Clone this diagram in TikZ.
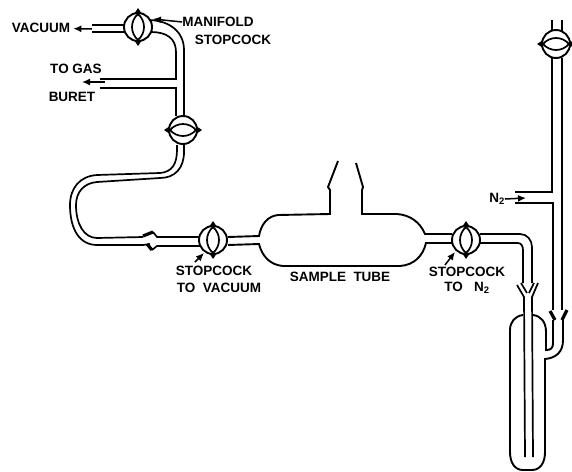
\documentclass[tikz,border=0pt]{standalone}
\usepackage{fontspec}
\setmainfont{Liberation Sans}
\usetikzlibrary{arrows.meta}
\tikzset{tube/.style={black,line width=1.7pt},
  wall/.style={black,line width=1.9pt},
  barb/.style={black,line width=3.2pt},
  lbl/.style={font=\fontsize{13.5}{13.5}\selectfont\bfseries,inner sep=0pt},
  feed/.style={black,line width=1.5pt,-{Latex[length=8pt,width=7pt]}}}
\begin{document}
\begin{tikzpicture}[x=1pt,y=-1pt]
\useasboundingbox (0,0) rectangle (572,471);

\node[lbl] (vacuum) at (41,28) {VACUUM};
\node[lbl] (manifold) at (218,22) {MANIFOLD};
\node[lbl] (manifoldb) at (233,40) {STOPCOCK};
\node[lbl] (togas) at (76,69) {TO GAS};
\node[lbl] (buret) at (72,97) {BURET};
\node[lbl] (stopvac) at (214,271) {STOPCOCK};
\node[lbl] (stopvacb) at (219,288) {TO\ \ VACUUM};
\node[lbl] (sample) at (340,277) {SAMPLE\ \ TUBE};
\node[lbl] (stopnit) at (467,272) {STOPCOCK};
\node[lbl] (stopnitb) at (467,288) {TO\ \ \ N$_{\mathbf 2}$};
\node[lbl] (nit) at (497,199) {N$_{\mathbf 2}$};

\coordinate (vacfrom) at (92,29);
\coordinate (manifoldtip) at (153,19);
\coordinate (gasfrom) at (105,82);
\coordinate (gastip) at (82,82);
\coordinate (stopvacfrom) at (195,262);
\coordinate (stopvactip) at (204,253);
\coordinate (stopnitfrom) at (445,265);
\coordinate (stopnittip) at (455,252);
\coordinate (nittip) at (526,198);

\draw[feed,shorten >=3pt] (vacfrom) -- (vacuum);
\draw[feed] (manifold.west) -- (manifoldtip);
\draw[feed] (gasfrom) -- (gastip);
\draw[feed] (stopvacfrom) -- (stopvactip);
\draw[feed] (stopnitfrom) -- (stopnittip);
\draw[feed] (nit.east) -- (nittip);

% manifold and gas buret
\draw[tube] (124,25) -- (92,25);
\draw[tube] (124,32) -- (92,32);
\draw[tube] (150,20) .. controls (170,21) and (184,32) .. (184,50) -- (184,116);
\draw[tube] (151,32) .. controls (166,32) and (176,38) .. (176,52) -- (176,79) -- (100,79);
\draw[tube] (100,88) -- (176,88) -- (176,116);

% loop down to the joint
\draw[tube] (177,145) -- (177,150) .. controls (177,164) and (172,172) .. (160,173)
  -- (97,175) .. controls (80,176) and (70,188) .. (70,205)
  .. controls (70,230) and (80,245) .. (97,245) -- (143,245);
\draw[tube] (184,145) -- (184,152) .. controls (184,168) and (175,178) .. (160,178)
  -- (97,182) .. controls (84,183) and (76,192) .. (76,205)
  .. controls (76,224) and (84,238) .. (97,238) -- (143,237);
\draw[barb] (143,236) -- (153,232);
\draw[tube] (153,232) -- (157,237) -- (200,237);
\draw[tube] (143,245) -- (150,244);
\draw[barb] (147,244) -- (152,250);
\draw[tube] (152,250) -- (157,246) -- (200,246);

% sample tube
\draw[wall] (228,237) -- (259,236) .. controls (261,224) and (268,216) .. (278,215)
  -- (330,214) -- (330,190) -- (328,187) -- (338,161);
\draw[wall] (356,163) -- (363,187) -- (362,190) -- (362,214) -- (397,214)
  .. controls (410,215) and (420,222) .. (425,234) -- (452,234);
\draw[wall] (228,245) -- (259,244) .. controls (262,256) and (270,265) .. (283,266)
  -- (400,266) .. controls (414,265) and (423,256) .. (426,243) -- (452,243);

% line over to the gas washer
\draw[tube] (480,234) -- (520,234) .. controls (527,234) and (532,240) .. (532,247) -- (532,283);
\draw[tube] (480,243) -- (518,243) .. controls (521,243) and (523,246) .. (523,250) -- (523,283);
\draw[tube] (517,285) -- (524,297) -- (525,457);
\draw[tube] (521,283) -- (527,293);
\draw[tube] (538,283) -- (532,297) -- (533,457);
\draw[tube] (534,283) -- (529,293);

% washer body
\draw[wall] (533,315) .. controls (541,316) and (546,322) .. (546,332) -- (546,350)
  .. controls (551,350) and (553,348) .. (553,343) -- (553,320);
\draw[wall] (523,315) .. controls (515,316) and (510,322) .. (510,330) -- (510,452)
  .. controls (510,463) and (515,470) .. (523,470) -- (532,470)
  .. controls (540,470) and (545,463) .. (545,452) -- (545,359)
  .. controls (556,358) and (563,352) .. (563,340) -- (563,320);

% right hand column
\draw[tube] (552,20) -- (552,31);
\draw[tube] (562,20) -- (562,31);
\draw[tube] (552,58) -- (552,192) -- (515,192);
\draw[tube] (515,203) -- (553,203) -- (553,310);
\draw[tube] (562,58) -- (562,310);
\draw[barb] (550,311) -- (555,320);
\draw[barb] (567,310) -- (562,320);

\foreach \cx/\cy in {138/27,213/240,466/240} {
  \draw[wall,fill=white] (\cx,\cy) circle (14);
  \draw[tube] (\cx,\cy-13) .. controls (\cx-8,\cy-6) and (\cx-8,\cy+6) .. (\cx,\cy+13);
  \draw[tube] (\cx,\cy-13) .. controls (\cx+8,\cy-6) and (\cx+8,\cy+6) .. (\cx,\cy+13);
  \fill[black] (\cx-4,\cy-13) -- (\cx,\cy-19) -- (\cx+4,\cy-13) -- cycle;
  \fill[black] (\cx-4,\cy+13) -- (\cx,\cy+19) -- (\cx+4,\cy+13) -- cycle;
}
\foreach \cx/\cy in {183/130,556/44} {
  \draw[wall,fill=white] (\cx,\cy) circle (14);
  \draw[tube] (\cx-13,\cy) .. controls (\cx-6,\cy-8) and (\cx+6,\cy-8) .. (\cx+13,\cy);
  \draw[tube] (\cx-13,\cy) .. controls (\cx-6,\cy+8) and (\cx+6,\cy+8) .. (\cx+13,\cy);
  \fill[black] (\cx-13,\cy-4) -- (\cx-19,\cy) -- (\cx-13,\cy+4) -- cycle;
  \fill[black] (\cx+13,\cy-4) -- (\cx+19,\cy) -- (\cx+13,\cy+4) -- cycle;
}
\end{tikzpicture}
\end{document}
